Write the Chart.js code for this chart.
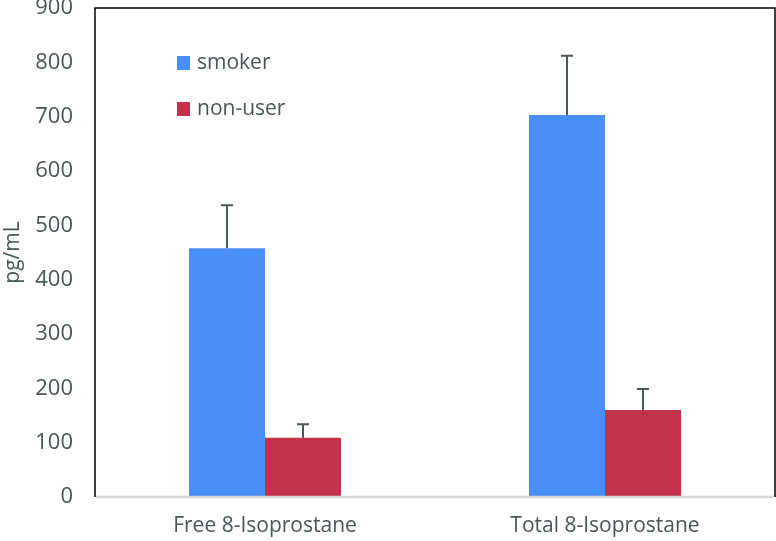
<!DOCTYPE html>
<html>
<head>
<meta charset="utf-8">
<script src="https://cdn.jsdelivr.net/npm/chart.js@4/dist/chart.umd.min.js"></script>
<style>
  html, body { margin: 0; padding: 0; background: #fff; }
  #wrap { width: 776px; height: 541px; }
</style>
</head>
<body>
<div id="wrap"><canvas id="bars"></canvas></div>
<script>
var categories = ['Free 8-Isoprostane', 'Total 8-Isoprostane']
var smoker = [458, 703]
var smokerErr = [79, 109]
var nonUser = [109, 160]
var nonUserErr = [25, 39]
var yTicks = [0, 100, 200, 300, 400, 500, 600, 700, 800, 900]

var fontName = "'Open Sans', 'Noto Sans', sans-serif"
var textColor = '#4b5557'

// upper error bars with a cap, plus the frame and the inside legend
var extras = {
    id: 'extras',
    afterDatasetsDraw: function (chart) {
        var c = chart.ctx
        var y = chart.scales.y
        var errs = [smokerErr, nonUserErr]
        c.save()
        c.strokeStyle = '#4d5658'
        c.lineWidth = 2
        chart.data.datasets.forEach(function (ds, i) {
            var meta = chart.getDatasetMeta(i)
            meta.data.forEach(function (bar, j) {
                var top = y.getPixelForValue(ds.data[j] + errs[i][j])
                c.beginPath()
                c.moveTo(bar.x, bar.y)
                c.lineTo(bar.x, top)
                c.moveTo(bar.x - 6, top)
                c.lineTo(bar.x + 6, top)
                c.stroke()
            })
        })
        c.restore()
    },
    afterDraw: function (chart) {
        var c = chart.ctx
        var a = chart.chartArea
        c.save()
        c.strokeStyle = '#000'
        c.lineWidth = 1.5
        c.beginPath()
        c.moveTo(a.left, a.bottom)
        c.lineTo(a.left, a.top)
        c.lineTo(a.right, a.top)
        c.lineTo(a.right, a.bottom)
        c.stroke()
        c.strokeStyle = '#d9d9d9'
        c.lineWidth = 2.5
        c.beginPath()
        c.moveTo(a.left + 1, a.bottom)
        c.lineTo(a.right - 1, a.bottom)
        c.stroke()

        var items = chart.data.datasets
        c.font = '21px ' + fontName
        c.textBaseline = 'middle'
        items.forEach(function (ds, i) {
            var ly = 63 + i * 46
            c.fillStyle = ds.backgroundColor
            c.fillRect(177, ly - 7, 13, 14)
            c.fillStyle = textColor
            c.fillText(ds.label, 197, ly)
        })
        c.restore()
    }
}

new Chart(document.getElementById('bars'), {
    type: 'bar',
    data: {
        labels: categories,
        datasets: [
            { label: 'smoker', data: smoker, backgroundColor: '#4a8ff8' },
            { label: 'non-user', data: nonUser, backgroundColor: '#c4314b' }
        ]
    },
    options: {
        responsive: true,
        maintainAspectRatio: false,
        animation: false,
        categoryPercentage: 0.447,
        barPercentage: 1,
        layout: { padding: { top: 8, right: 1, left: 0, bottom: 0 } },
        plugins: {
            legend: { display: false },
            tooltip: { enabled: false }
        },
        scales: {
            x: {
                grid: { display: false, drawTicks: false },
                border: { display: false },
                ticks: { color: textColor, font: { family: fontName, size: 21 }, padding: 16 },
                afterFit: function (s) { s.height = 44 }
            },
            y: {
                min: 0,
                max: 900,
                afterBuildTicks: function (s) { s.ticks = yTicks.map(function (v) { return { value: v } }) },
                grid: { display: false, drawTicks: false },
                border: { display: false },
                ticks: { color: textColor, font: { family: fontName, size: 22 }, padding: 22 },
                title: { display: true, text: 'pg/mL', color: textColor, font: { family: fontName, size: 21 }, padding: 0 },
                afterFit: function (s) {
                    s.width = 95
                    s.paddingTop = 0
                    s.paddingBottom = 0
                }
            }
        }
    },
    plugins: [extras]
});
</script>
</body>
</html>
